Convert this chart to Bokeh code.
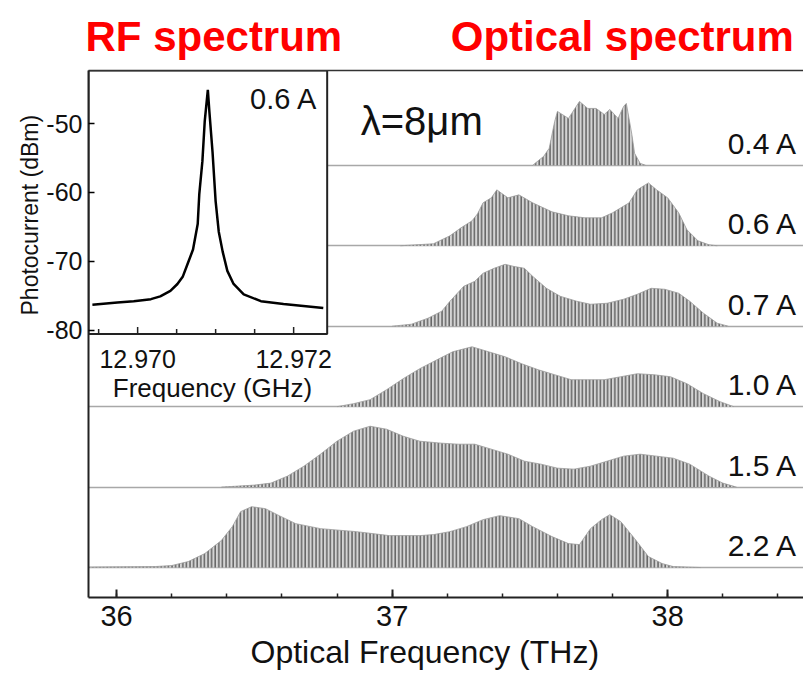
from bokeh.plotting import figure
from bokeh.models import Range1d, LinearAxis, FixedTicker, SingleIntervalTicker, Title
from bokeh.core.properties import value
from bokeh.embed import file_html
from bokeh.resources import INLINE

# ---------------- data ----------------
currents = ["0.4 A", "0.6 A", "0.7 A", "1.0 A", "1.5 A", "2.2 A"]

f_04 = [37.51, 37.55, 37.57, 37.59, 37.60, 37.64, 37.68, 37.71, 37.74, 37.77, 37.79, 37.82, 37.84, 37.85, 37.87, 37.88, 37.90, 37.92]
i_04 = [0, 9, 17, 44, 54, 47, 64, 57, 57, 51, 56, 47, 59, 62, 31, 12, 2, 0]

f_06 = [37.03, 37.15, 37.21, 37.25, 37.29, 37.31, 37.33, 37.36, 37.38, 37.42, 37.46, 37.51, 37.58, 37.64, 37.70, 37.76, 37.80, 37.86, 37.89, 37.93, 37.96, 38.00, 38.04, 38.07, 38.11, 38.15, 38.18]
i_06 = [0, 2, 10, 18, 25, 32, 43, 48, 56, 48, 51, 43, 34, 30, 28, 28, 33, 43, 56, 63, 56, 48, 33, 16, 5, 1, 0]

f_07 = [37.00, 37.07, 37.13, 37.18, 37.21, 37.26, 37.30, 37.33, 37.37, 37.41, 37.44, 37.48, 37.51, 37.56, 37.61, 37.67, 37.72, 37.78, 37.84, 37.89, 37.94, 37.99, 38.04, 38.08, 38.13, 38.18, 38.22]
i_07 = [0, 2, 8, 15, 25, 40, 45, 53, 58, 62, 60, 58, 50, 38, 30, 25, 22, 23, 27, 32, 38, 37, 33, 25, 13, 3, 0]

f_10 = [36.80, 36.86, 36.92, 36.98, 37.04, 37.10, 37.17, 37.22, 37.29, 37.35, 37.41, 37.47, 37.53, 37.59, 37.65, 37.71, 37.77, 37.83, 37.89, 37.95, 38.01, 38.07, 38.13, 38.19, 38.24]
i_10 = [0, 3, 7, 17, 28, 38, 48, 55, 60, 55, 50, 43, 37, 32, 27, 27, 27, 30, 33, 32, 30, 23, 13, 5, 0]

f_15 = [36.38, 36.50, 36.56, 36.62, 36.68, 36.74, 36.80, 36.86, 36.92, 36.98, 37.04, 37.10, 37.18, 37.24, 37.30, 37.36, 37.42, 37.48, 37.54, 37.60, 37.66, 37.72, 37.78, 37.84, 37.90, 37.96, 38.02, 38.08, 38.15, 38.20, 38.25]
i_15 = [0, 2, 4, 11, 21, 33, 46, 56, 61, 58, 51, 46, 44, 43, 43, 38, 33, 26, 23, 19, 18, 21, 26, 31, 33, 31, 29, 23, 11, 4, 0]

f_22 = [35.90, 36.14, 36.20, 36.26, 36.32, 36.38, 36.42, 36.45, 36.49, 36.54, 36.59, 36.65, 36.74, 36.87, 36.99, 37.10, 37.15, 37.21, 37.27, 37.33, 37.39, 37.46, 37.51, 37.58, 37.64, 37.68, 37.72, 37.76, 37.79, 37.83, 37.88, 37.93, 37.98, 38.02, 38.12]
i_22 = [0.5, 1, 2, 6, 14, 27, 41, 56, 61, 59, 52, 44, 39, 36, 32, 32, 33, 36, 41, 48, 52, 49, 41, 31, 24, 23, 39, 48, 53, 46, 29, 11, 4, 1, 0]

spectra_f = [f_04, f_06, f_07, f_10, f_15, f_22]
spectra_i = [i_04, i_06, i_07, i_10, i_15, i_22]

rf_freq = [12.96942, 12.96974, 12.96995, 12.97017, 12.97029, 12.97042, 12.97051, 12.97058, 12.97064, 12.97071,
           12.97077, 12.97079, 12.97083, 12.97086, 12.97090, 12.97092, 12.97096, 12.97100, 12.97104, 12.97109,
           12.97115, 12.97123, 12.97136, 12.97158, 12.97187, 12.97238]
rf_dbm = [-76.3, -76.0, -75.8, -75.5, -75.1, -74.3, -73.3, -72.2, -70.4, -68.3,
          -64.6, -60.3, -55.5, -49.7, -45.1, -48.3, -54.1, -61.3, -65.7, -68.6,
          -71.4, -73.3, -74.8, -75.8, -76.2, -76.8]

rf_yticks = [-80, -70, -60, -50]
rf_xlabels_at = [12.970, 12.972]
rf_xticks = [12.9695, 12.970, 12.9705, 12.971, 12.9715, 12.972]

# ---------------- layout constants ----------------
FONT = "Liberation Sans"
X0, X1 = 35.898, 38.493
Y0, Y1 = 0, 528
RFX0 = 12.96937
RFX1 = RFX0 + 0.001 * 715 / 78
RFY1 = -42.3
RFY0 = RFY1 - 528 / 6.9
INSET_R = 12.97243
INSET_B = -80.56

p = figure(width=803, height=677, x_range=Range1d(X0, X1), y_range=Range1d(Y0, Y1),
           output_backend="svg", toolbar_location=None, y_axis_location=None,
           min_border_left=88, min_border_right=0, min_border_top=69, min_border_bottom=80)
p.extra_x_ranges = {"rfx": Range1d(RFX0, RFX1)}
p.extra_y_ranges = {"rfy": Range1d(RFY0, RFY1)}
p.outline_line_color = None
p.grid.visible = False
p.background_fill_color = "white"
p.border_fill_color = "white"

# titles (one line, both headings)
gap = "\u00a0" * 9 + "\u200a"
p.title.text = "RF spectrum" + gap + "Optical spectrum"
p.title.align = "left"
p.title.offset = -3
p.title.text_font = FONT
p.title.text_font_size = "42px"
p.title.text_font_style = "bold"
p.title.text_color = "#ff0000"
p.title.standoff = 21

# bottom axis
xa = p.xaxis[0]
xa.ticker = SingleIntervalTicker(interval=1, num_minor_ticks=5)
xa.axis_line_width = 2
xa.axis_line_color = "#222222"
xa.major_tick_in = 8
xa.major_tick_out = 0
xa.minor_tick_in = 4
xa.minor_tick_out = 0
xa.major_tick_line_width = 2
xa.minor_tick_line_width = 1.5
xa.major_tick_line_color = "#222222"
xa.minor_tick_line_color = "#222222"
xa.major_label_text_font = FONT
xa.major_label_text_font_size = "29px"
xa.major_label_text_color = "#111111"
xa.major_label_standoff = 8

# left axis = inset y axis
ya = LinearAxis(y_range_name="rfy", ticker=FixedTicker(ticks=rf_yticks, minor_ticks=[]))
ya.major_label_overrides = {t: str(t) for t in rf_yticks}
ya.axis_line_width = 2
ya.axis_line_color = "#222222"
ya.major_tick_in = 6
ya.major_tick_out = 0
ya.major_tick_line_width = 1.5
ya.major_label_text_font = FONT
ya.major_label_text_font_size = "25px"
ya.major_label_text_color = "#111111"
ya.major_label_standoff = 6
p.add_layout(ya, "left")

# top spine
ta = LinearAxis(ticker=FixedTicker(ticks=[]), major_label_text_font_size="0px")
ta.axis_line_width = 1.5
ta.axis_line_color = "#333333"
ta.major_tick_line_color = None
ta.minor_tick_line_color = None
p.add_layout(ta, "above")

# side titles: inset y label and main x label
p.add_layout(Title(text="Photocurrent (dBm)", align="left", offset=282, text_font=FONT,
                   text_font_size="23px", text_font_style="normal", text_color="#111111",
                   standoff=2), "left")
p.add_layout(Title(text="Optical Frequency (THz)", align="left", offset=162, text_font=FONT,
                   text_font_size="32px", text_font_style="normal", text_color="#111111",
                   standoff=7), "below")

# spectra
n = len(currents)
offsets = [30 + (n - 1 - k) * 80.6 for k in range(n)]
p.hspan(y=offsets, line_color="#a8a8a8", line_width=1.5)
for k in range(n):
    off = offsets[k]
    fx = spectra_f[k]
    top = [off + v for v in spectra_i[k]]
    p.varea(x=fx, y1=[off] * len(fx), y2=top, fill_color="#d4d4d4",
            hatch_pattern="vertical_line", hatch_color="#3a3a3a", hatch_scale=3.6, hatch_weight=1.1)
    p.line(x=fx, y=top, line_color="#9a9a9a", line_width=0.8)

p.text(x=[38.472] * n, y=[o + 22 for o in offsets], text=currents, text_align="right",
       text_baseline="middle", text_font=value(FONT), text_font_size="30px", text_color="#111111")

p.text(x=[36.886], y=[477], text=["λ=8μm"], text_align="left", text_baseline="middle",
       text_font=value(FONT), text_font_size="40px", text_color="#111111")

# inset
p.quad(left=[RFX0], right=[INSET_R], bottom=[INSET_B], top=[RFY1], fill_color="white",
       line_color="#222222", line_width=2, x_range_name="rfx", y_range_name="rfy")
p.line(x=rf_freq, y=rf_dbm, line_color="black", line_width=2.5, x_range_name="rfx", y_range_name="rfy")
tick_len = [7 if t in rf_xlabels_at else 5 for t in rf_xticks]
p.segment(x0=rf_xticks, x1=rf_xticks, y0=[INSET_B] * len(rf_xticks),
          y1=[INSET_B + L / 6.9 for L in tick_len], line_color="#222222", line_width=1.5,
          x_range_name="rfx", y_range_name="rfy")
p.text(x=rf_xlabels_at, y=[-84.2] * 2, text=["12.970", "12.972"], text_align="center",
       text_baseline="middle", text_font=value(FONT), text_font_size="25px", text_color="#111111",
       x_range_name="rfx", y_range_name="rfy")
p.text(x=[12.97096], y=[-88.4], text=["Frequency (GHz)"], text_align="center",
       text_baseline="middle", text_font=value(FONT), text_font_size="26px", text_color="#111111",
       x_range_name="rfx", y_range_name="rfy")
p.text(x=[12.97231], y=[-46.5], text=["0.6 A"], text_align="right",
       text_baseline="middle", text_font=value(FONT), text_font_size="29px", text_color="#111111",
       x_range_name="rfx", y_range_name="rfy")

open("out.html", "w").write(file_html(p, INLINE))
